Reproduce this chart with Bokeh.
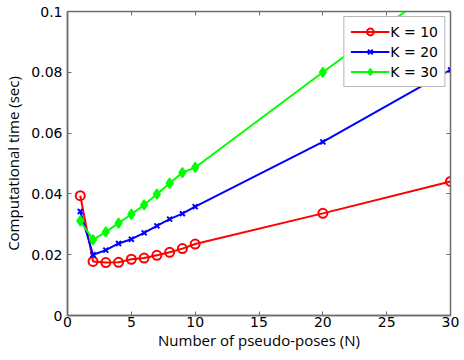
from bokeh.plotting import figure
from bokeh.models import LinearAxis, FixedTicker, CustomJSTickFormatter, Range1d, CustomLabelingPolicy
from bokeh.embed import file_html
from bokeh.resources import INLINE

# ---- data ----
N = [1, 2, 3, 4, 5, 6, 7, 8, 9, 10, 20, 30]
k10 = [0.0394, 0.0178, 0.0174, 0.0175, 0.0185, 0.0189, 0.0198, 0.0208, 0.0220, 0.0235, 0.0336, 0.0441]
k20 = [0.0342, 0.0200, 0.0215, 0.0237, 0.0251, 0.0272, 0.0295, 0.0317, 0.0335, 0.0358, 0.0571, 0.0808]
k30 = [0.0311, 0.0249, 0.0275, 0.0304, 0.0333, 0.0364, 0.0399, 0.0435, 0.0470, 0.0487, 0.0800, 0.1110]
x_ticks = [0, 5, 10, 15, 20, 25, 30]
y_ticks = [0, 0.02, 0.04, 0.06, 0.08, 0.1]
labels = ["K = 10", "K = 20", "K = 30"]

AX = "#6e6e6e"
TICK_FONT = "DejaVu Sans"
LABEL_FONT = "Open Sans"

p = figure(frame_width=383, frame_height=304, output_backend="svg", toolbar_location=None,
           x_range=Range1d(0, 30), y_range=Range1d(0, 0.1),
           min_border_left=56, min_border_right=9, min_border_top=6, min_border_bottom=26,
           x_axis_label="Number of pseudo-poses (N)",
           y_axis_label="Computational time (sec)")
p.grid.visible = False
p.outline_line_color = AX
p.outline_line_width = 1.5
p.background_fill_color = "white"
p.border_fill_color = "white"

formatter = CustomJSTickFormatter(code="return tick.toFixed(2).replace(/\\.?0+$/, '');")

for ax in (p.xaxis[0], p.yaxis[0]):
    ax.axis_line_color = AX
    ax.axis_line_width = 1.5
    ax.major_tick_line_color = AX
    ax.major_tick_in = 4
    ax.major_tick_out = 0
    ax.minor_tick_line_color = None
    ax.major_label_text_font = TICK_FONT
    ax.major_label_text_font_size = "14px"
    ax.major_label_text_color = "black"
    ax.axis_label_text_font = LABEL_FONT
    ax.axis_label_text_font_size = "15px"
    ax.axis_label_text_font_style = "normal"
    ax.axis_label_text_color = "black"

p.xaxis[0].ticker = FixedTicker(ticks=x_ticks)
p.yaxis[0].ticker = FixedTicker(ticks=y_ticks)
p.yaxis[0].formatter = formatter
p.xaxis[0].major_label_standoff = 1
p.xaxis[0].axis_label_standoff = 0
p.yaxis[0].major_label_standoff = 5
p.yaxis[0].axis_label_standoff = 5

# top and right axes with inward ticks, no labels
no_labels = CustomLabelingPolicy(code="for (const i of indices) indices.unset(i); return indices")
top = LinearAxis(ticker=FixedTicker(ticks=x_ticks), major_label_policy=no_labels,
                 major_label_standoff=0, major_tick_in=4, major_tick_out=0,
                 minor_tick_line_color=None, axis_line_color=AX, major_tick_line_color=AX)
right = LinearAxis(ticker=FixedTicker(ticks=y_ticks), major_label_policy=no_labels,
                   major_label_standoff=0, major_tick_in=4, major_tick_out=0,
                   minor_tick_line_color=None, axis_line_color=AX, major_tick_line_color=AX)
p.add_layout(top, "above")
p.add_layout(right, "right")

# series
p.line(N, k10, line_color="#ff0000", line_width=2, legend_label=labels[0])
p.scatter(N, k10, marker="circle", size=9, fill_color=None, line_color="#ff0000",
          line_width=2, legend_label=labels[0])
p.line(N, k20, line_color="#0000ff", line_width=2, legend_label=labels[1])
p.scatter(N, k20, marker="x", size=7, line_color="#0000ff", line_width=2,
          legend_label=labels[1])
p.line(N, k30, line_color="#00ff00", line_width=2, legend_label=labels[2])
p.scatter(N, k30, marker="diamond", size=10, fill_color="#00ff00", line_color="#00ff00",
          line_width=1.5, legend_label=labels[2])

lg = p.legend[0]
lg.location = "top_right"
lg.margin = 5
lg.padding = 6
lg.spacing = 3
lg.glyph_width = 39
lg.glyph_height = 17
lg.label_height = 17
lg.label_standoff = 1
lg.label_text_font = TICK_FONT
lg.label_text_font_size = "14px"
lg.label_text_color = "black"
lg.border_line_color = AX
lg.border_line_width = 1.5
lg.background_fill_color = "white"
lg.background_fill_alpha = 1

open("out.html", "w").write(file_html(p, INLINE))
